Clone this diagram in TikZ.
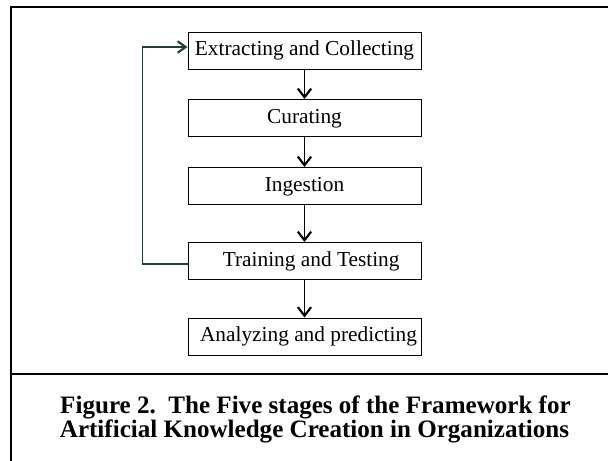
\documentclass[tikz,border=0pt]{standalone}
\usepackage{fontspec}
\setmainfont{Liberation Serif}
\usetikzlibrary{arrows.meta,calc}
\definecolor{loopgreen}{RGB}{32,66,54}
\begin{document}
\begin{tikzpicture}[x=0.75pt,y=-0.75pt,
  stagebox/.style={draw=black, line width=0.75pt, minimum width=174.75pt,
    minimum height=27.75pt, inner sep=0pt, text height=11pt, text depth=3.5pt,
    font=\fontsize{16}{19}\selectfont},
  flow/.style={line width=0.75pt,
    -{Straight Barb[length=6.5pt,width=10pt,line width=1.6pt]}},
  backloop/.style={draw=loopgreen, line width=0.9pt,
    -{Straight Barb[length=6pt,width=8.5pt,line width=1.6pt]}},
  captext/.style={font=\bfseries\fontsize{18.8}{20}\selectfont, inner sep=0pt, anchor=base}
]
\useasboundingbox (0,0) rectangle (608,461);
\fill[white] (0,0) rectangle (608,461);

% frame and caption rule
\draw[line width=1.5pt] (11,470) -- (11,7) -- (620,7);
\draw[line width=1.1pt] (11,374) -- (620,374);

% stages
\node[stagebox] (b1) at (304.5,50.5) {Extracting and Collecting};
\node[stagebox] (b2) at (304.5,118) {Curating};
\node[stagebox] (b3) at (304.5,186) {Ingestion};
\node[stagebox] (b4) at (304.5,261) {\hspace{10pt}Training and Testing};
\node[stagebox] (b5) at (304.5,336.5) {\hspace{6pt}Analyzing and predicting};

% forward flow
\draw[flow] (b1.south) -- (b2.north);
\draw[flow] (b2.south) -- (b3.north);
\draw[flow] (b3.south) -- (b4.north);
\draw[flow] (b4.south) -- (b5.north);

% feedback loop
\draw[backloop] ($(b4.west)+(0,3)$) -- ++(-45,0) |- ($(b1.west)+(0,-3.5)$);

% caption
\node[captext] (cap1) at (315.5,413) {Figure 2.\ \ The Five stages of the Framework for};
\node[captext] (cap2) at (314.5,437) {Artificial Knowledge Creation in Organizations};
\end{tikzpicture}
\end{document}
